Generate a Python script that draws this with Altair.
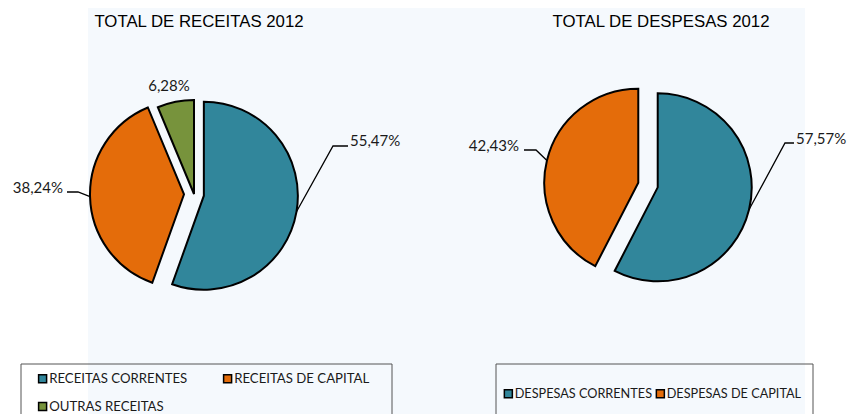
import math
import altair as alt
import pandas as pd

# ---- data -------------------------------------------------------------
rec_cats = ["RECEITAS CORRENTES", "RECEITAS DE CAPITAL", "OUTRAS RECEITAS"]
rec_vals = [55.47, 38.24, 6.28]
desp_cats = ["DESPESAS CORRENTES", "DESPESAS DE CAPITAL"]
desp_vals = [57.57, 42.43]
titles = ["TOTAL DE RECEITAS 2012", "TOTAL DE DESPESAS 2012"]

# ---- styles / layout --------------------------------------------------
rec_colors = ["#31869b", "#e46c0a", "#77933c"]
desp_colors = ["#31869b", "#e46c0a"]
R = 94
W, H = 840, 406
explode = {"RECEITAS CORRENTES": 10, "RECEITAS DE CAPITAL": 10, "OUTRAS RECEITAS": 0,
           "DESPESAS CORRENTES": 10, "DESPESAS DE CAPITAL": 10}
centers = [(186, 186), (640, 177)]
title_pos = [(191, 14), (653, 14)]
# label placement (manual, as in the original spreadsheet chart)
label_layout = {
    "RECEITAS CORRENTES": dict(elbow=(325, 138), end=(340, 138), tx=342, ty=133, align="left"),
    "RECEITAS DE CAPITAL": dict(elbow=(70, 184), end=(59, 184), tx=55, ty=180, align="right"),
    "OUTRAS RECEITAS": dict(elbow=None, end=None, tx=161, ty=78, align="center"),
    "DESPESAS CORRENTES": dict(elbow=(777, 135), end=(786, 135), tx=788, ty=131, align="left"),
    "DESPESAS DE CAPITAL": dict(elbow=(528, 142), end=(516, 142), tx=511, ty=138, align="right"),
}
LABEL_FONT = "Lato"


def pct(v):
    return f"{v:.2f}%".replace(".", ",")


def slices(cats, vals, center):
    total = sum(vals)
    rows, pts = [], []
    cum = 0.0
    for i, (c, v) in enumerate(zip(cats, vals)):
        a = (cum + v / 2) / total * 2 * math.pi
        start = cum
        cum += v
        d = explode.get(c, 0)
        cx = center[0] + d * math.sin(a)
        cy = center[1] - d * math.cos(a)
        lay = label_layout[c]
        rows.append(dict(cat=c, val=v, idx=i, start=start, end=cum, cx=cx, cy=cy,
                         label=pct(v), tx=lay["tx"], ty=lay["ty"], align=lay["align"]))
        if lay["elbow"] is not None:
            sx = cx + R * math.sin(a)
            sy = cy - R * math.cos(a)
            for k, (px, py) in enumerate([(sx, sy), lay["elbow"], lay["end"]]):
                pts.append(dict(cat=c, seq=k, px=px, py=py))
    return pd.DataFrame(rows), pd.DataFrame(pts), total


def pie_layers(cats, vals, colors, center, leg_x, leg_y, col_pad, row_pad, leg_font):
    df, pts, total = slices(cats, vals, center)
    arcs = alt.Chart(df).mark_arc(radius=R, stroke="black", strokeWidth=2).encode(
        theta=alt.Theta("start:Q", scale=alt.Scale(domain=[0, total], range=[0, 2 * math.pi])),
        theta2=alt.Theta2("end:Q"),
        x=alt.X("cx:Q", scale=None, stack=False),
        y=alt.Y("cy:Q", scale=None, stack=False),
        color=alt.Color("cat:N", scale=alt.Scale(domain=cats, range=colors),
                        legend=alt.Legend(title=None, orient="none", legendX=leg_x, legendY=leg_y,
                                          direction="horizontal", columns=2,
                                          columnPadding=col_pad, rowPadding=row_pad,
                                          symbolType="square", symbolSize=64,
                                          symbolStrokeColor="black", symbolStrokeWidth=1.5,
                                          symbolOpacity=1,
                                          labelFont=LABEL_FONT, labelFontSize=leg_font,
                                          labelColor="#1a1a1a", labelLimit=300,
                                          labelOffset=0, padding=0)),
        order=alt.Order("idx:Q"),
        tooltip=["cat:N", "val:Q"],
    )
    lines = alt.Chart(pts).mark_line(color="black", strokeWidth=1.3).encode(
        x=alt.X("px:Q", scale=None),
        y=alt.Y("py:Q", scale=None),
        detail="cat:N",
        order="seq:Q",
    )
    texts = []
    for al in ["left", "right", "center"]:
        texts.append(
            alt.Chart(df).transform_filter(alt.datum.align == al).mark_text(
                align=al, baseline="middle", font=LABEL_FONT, fontSize=15, color="#1a1a1a"
            ).encode(x=alt.X("tx:Q", scale=None), y=alt.Y("ty:Q", scale=None), text="label:N")
        )
    return [arcs, lines] + texts


bg = alt.Chart(pd.DataFrame({"a": [0]})).mark_rect(color="#f5f9fd").encode(
    x=alt.value(80), x2=alt.value(797), y=alt.value(0), y2=alt.value(H))

title_df = pd.DataFrame({"t": titles, "x": [p[0] for p in title_pos], "y": [p[1] for p in title_pos]})
title_layer = alt.Chart(title_df).mark_text(
    font="Liberation Sans", fontSize=16.8, color="black", baseline="middle", align="center"
).encode(x=alt.X("x:Q", scale=None), y=alt.Y("y:Q", scale=None), text="t:N")

frames = alt.Chart(pd.DataFrame({"a": [0]})).mark_rect(fill=None, stroke="#555555", strokeWidth=1)
frame_l = frames.encode(x=alt.value(13), x2=alt.value(384), y=alt.value(356), y2=alt.value(420))
frame_r = frames.encode(x=alt.value(488), x2=alt.value(805), y=alt.value(356), y2=alt.value(420))

left = pie_layers(rec_cats, rec_vals, rec_colors, centers[0], 28, 364, 32, 13, 13.2)
right = pie_layers(desp_cats, desp_vals, desp_colors, centers[1], 494, 379, 0, 13, 12.7)

chart = alt.layer(bg, frame_l, frame_r, title_layer, *left, *right).resolve_scale(
    color="independent", theta="independent"
).properties(
    width=W, height=H, padding=0, autosize=alt.AutoSizeParams(type="none"), background="white"
).configure_view(stroke=None)

chart.save("out.html", embed_options={"renderer": "svg", "actions": False})
